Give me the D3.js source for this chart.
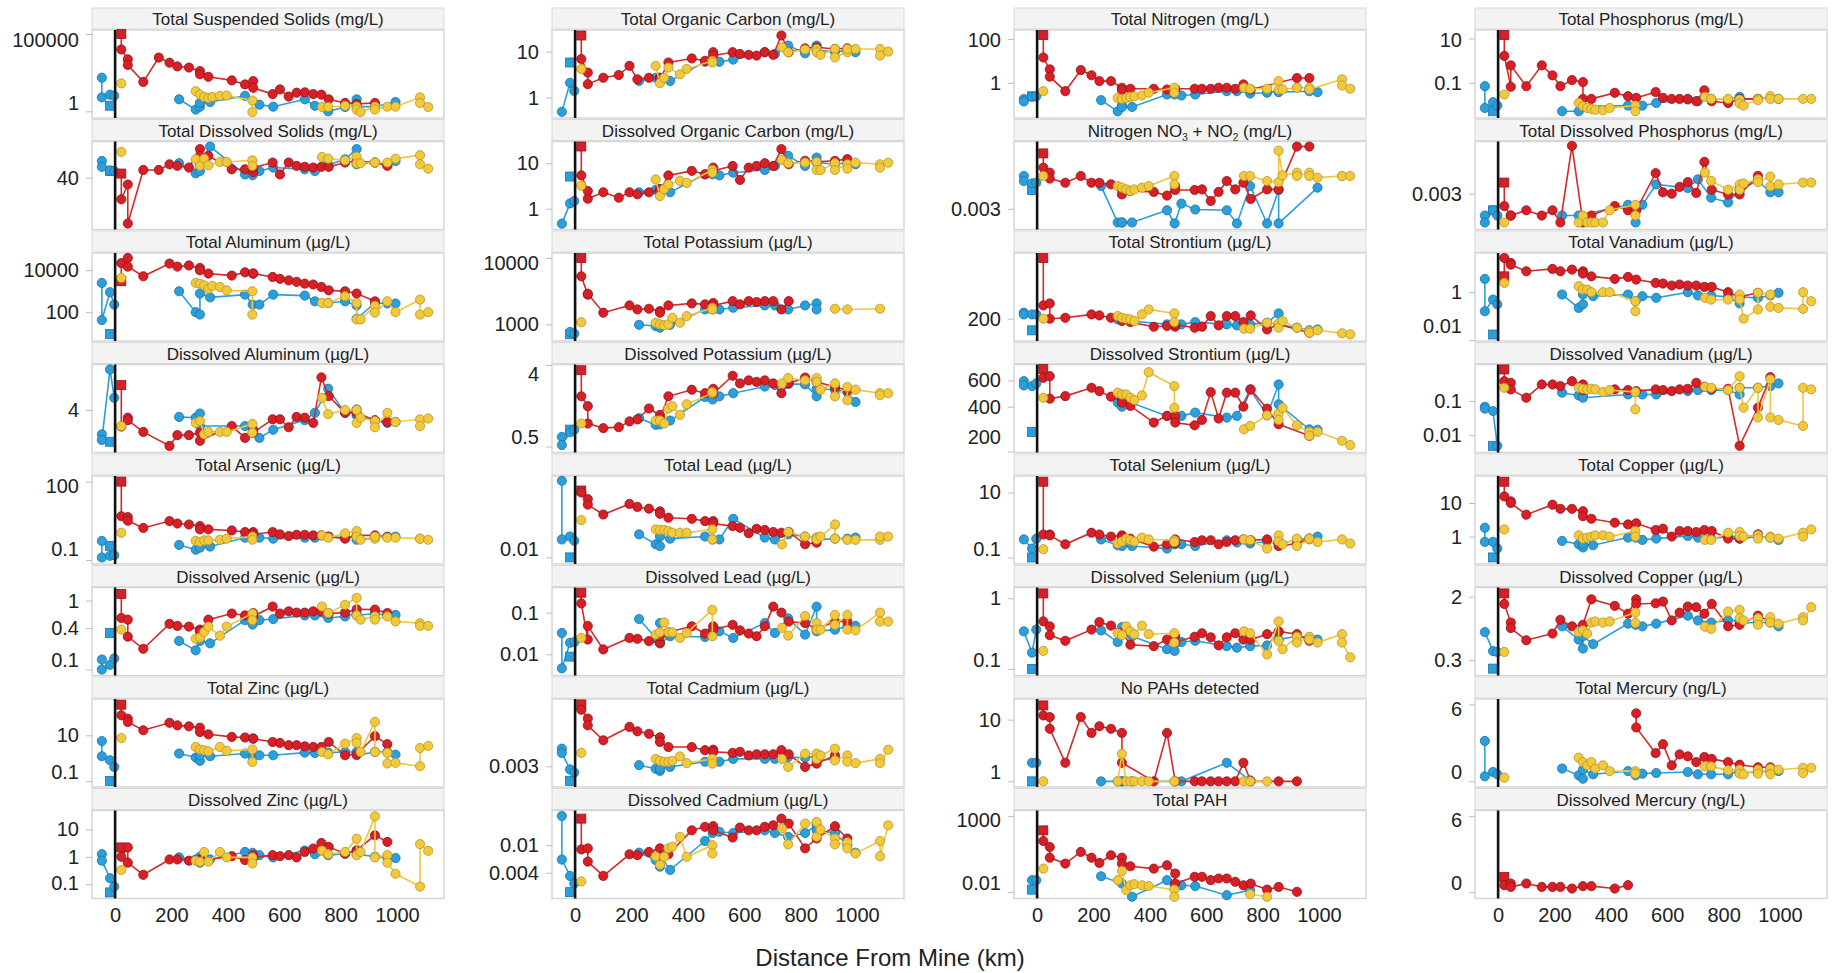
<!DOCTYPE html>
<html>
<head>
<meta charset="utf-8">
<style>
  body { margin: 0; background: #ffffff; }
  svg { font-family: "Liberation Sans", Arial, sans-serif; }
  .strip { fill: #f3f3f3; stroke: #dadada; stroke-width: 1px; }
  .frame { fill: #ffffff; stroke: #d6d6d6; stroke-width: 1.5px; }
  .panel-title { font-size: 17px; fill: #222; }
  .axis-title { font-size: 24px; fill: #222; }
</style>
</head>
<body>
<div id="chart"></div>
<script src="https://d3js.org/d3.v7.min.js"></script>
<script>
const N = null;

// sampling sites (km from mine) shared by every panel
const blueKm = [-47, -47, -18, -3, 227, 286, 301, 301, 337, 461, 488, 512, 561, 673, 709, 756, 816, 857, 857, 922, 966, 995];
const blueSquareKm = -18;
// first red site is drawn as a square
const redKm = [22, 22, 45, 45, 100, 155, 193, 221, 262, 301, 301, 331, 414, 461, 490, 490, 559, 585, 616, 644, 673, 703, 732, 758, 816, 857, 922, 966];
const yellowKm = [22, 286, 301, 316, 331, 345, 372, 396, 487, 487, 734, 756, 816, 857, 857, 871, 922, 922, 966, 966, 995, 1082, 1082, 1111];

// panels listed column by column (8 rows x 4 columns)
const panelTitles = [
  'Total Suspended Solids (mg/L)', 'Total Dissolved Solids (mg/L)', 'Total Aluminum (µg/L)', 'Dissolved Aluminum (µg/L)',
  'Total Arsenic (µg/L)', 'Dissolved Arsenic (µg/L)', 'Total Zinc (µg/L)', 'Dissolved Zinc (µg/L)',
  'Total Organic Carbon (mg/L)', 'Dissolved Organic Carbon (mg/L)', 'Total Potassium (µg/L)', 'Dissolved Potassium (µg/L)',
  'Total Lead (µg/L)', 'Dissolved Lead (µg/L)', 'Total Cadmium (µg/L)', 'Dissolved Cadmium (µg/L)',
  'Total Nitrogen (mg/L)', 'Nitrogen NO_3 + NO_2 (mg/L)', 'Total Strontium (µg/L)', 'Dissolved Strontium (µg/L)',
  'Total Selenium (µg/L)', 'Dissolved Selenium (µg/L)', 'No PAHs detected', 'Total PAH',
  'Total Phosphorus (mg/L)', 'Total Dissolved Phosphorus (mg/L)', 'Total Vanadium (µg/L)', 'Dissolved Vanadium (µg/L)',
  'Total Copper (µg/L)', 'Dissolved Copper (µg/L)', 'Total Mercury (ng/L)', 'Dissolved Mercury (ng/L)'
];

const panelScale = ['log', 'log', 'log', 'log', 'log', 'log', 'log', 'log',
  'log', 'log', 'log', 'log', 'log', 'log', 'log', 'log',
  'log', 'log', 'log', 'log', 'log', 'log', 'log', 'log',
  'log', 'log', 'log', 'log', 'log', 'log', 'linear', 'linear'];

const panelDomain = [
  [0.37, 182000], [1.13, 481], [4.2, 67000], [0.56, 32.7], [0.071, 164], [0.082, 1.55], [0.056, 380], [0.030, 49],
  [0.36, 29.5], [0.35, 30], [562, 11900], [0.43, 4.05], [0.0063, 2.95], [0.0031, 0.4], [0.00091, 0.145], [0.0017, 0.0317],
  [0.0243, 260], [0.00116, 0.0656], [71.4, 4180], [197, 768], [0.063, 32.4], [0.0807, 1.42], [0.81, 21.6], [0.00363, 2340],
  [0.00257, 24], [0.00058, 0.0329], [0.0091, 43.6], [0.00313, 1.17], [0.153, 63.7], [0.187, 2.64], [-0.44, 6.42], [-0.53, 6.45]
];

const panelTicks = [
  [1, 100000], [40], [100, 10000], [4], [0.1, 100], [0.1, 0.4, 1], [0.1, 10], [0.1, 1, 10],
  [1, 10], [1, 10], [1000, 10000], [0.5, 4], [0.01], [0.01, 0.1], [0.003], [0.004, 0.01],
  [1, 100], [0.003], [200], [200, 400, 600], [0.1, 10], [0.1, 1], [1, 10], [0.01, 1000],
  [0.1, 10], [0.003], [0.01, 1], [0.01, 0.1], [1, 10], [0.3, 2], [0, 6], [0, 6]
];

const xTicks = [0, 200, 400, 600, 800, 1000];

const blueSquareValues = [2.3, 63, 9, 0.92, 0.35, 0.34, 0.103, 0.05,
  5.8, 5.1, 710, 0.77, 0.01, 0.0088, 0.0013, 0.0021,
  0.24, 0.0071, 117, 271, 0.1, 0.1, 1, 0.014,
  0.0052, 0.0014, 0.017, 0.0049, 0.24, 0.23, N, N];

const blueValues = [
  [150, 8, 12, 10, 6, 1.3, 2, 3.5, 4, 10, N, 2.7, 2, 6, 2.3, 1, 1.9, 6, 2, 2, N, 4],
  [126, 84, 66, 63, 108, 54, 63, 94, 340, 50, 47, 63, 80, 71, 63, 96, 142, 285, 100, 113, 96, 126],
  [2500, 42, 900, 230, 1000, 100, 77, 780, 510, 690, 230, 230, 690, 620, 330, 275, 330, 210, 48, 275, 260, 260],
  [1.3, 1.0, 26, 7, 2.9, 2.8, 3.4, 1.9, N, 1.9, 1.4, 1.1, 1.6, 2.5, 3.5, 10.7, 3.5, 4.1, 3.1, 2.4, 2.2, 2.3],
  [0.54, 0.126, 0.146, 0.155, 0.38, 0.25, 0.3, N, 0.33, 0.72, 0.72, 0.72, 0.66, 0.72, 0.72, 0.79, 0.72, 0.79, 0.6, 0.72, 0.79, 0.79],
  [0.14, 0.1, 0.117, 0.145, 0.26, 0.19, 0.26, N, 0.24, 0.52, 0.45, 0.52, 0.54, 0.61, 0.61, 0.56, 0.59, 0.66, 0.61, 0.65, 0.61, 0.62],
  [5.6, 1.22, 0.82, 0.42, 1.6, 1.07, 0.77, 1.35, 1.22, 1.6, 1.13, 1.35, 1.35, 1.76, 1.7, 1.76, 1.88, 1.88, 1.35, 1.88, 1.88, 1.44],
  [1.25, 0.72, 0.165, 0.082, 0.95, 0.8, 1.0, 0.61, 0.8, 1.5, 1.4, 1.15, 0.95, 1.7, 1.25, 1.15, 1.3, 1.7, 1.25, 1.0, 0.95, 0.9],
  [0.49, N, 2.1, 1.4, 2.3, 2.7, 2.7, 2.5, 2.3, 6.0, 6.0, 6.0, 6.7, 9.7, 8.9, 13.5, 9.2, 13.5, 10.5, 10, 10.5, 9.7],
  [0.47, N, 1.31, 1.48, 2.3, 2.6, 2.7, 2.3, 2.3, 5.7, 5.7, 5.4, 6.2, 7.1, 8.7, 14.5, 8.7, 13.3, 10.3, 9.5, 10.3, 9.5],
  [N, N, 770, 725, 985, 945, 890, 985, 985, 1680, 1680, 1680, 1780, 1930, 1930, 1680, 1930, 2070, 1680, N, N, N],
  [0.64, 0.52, 0.72, 0.77, 1.03, 0.87, 0.88, N, 0.97, 1.77, 1.66, 1.8, 1.95, 2.31, 2.4, 2.47, 2.44, 1.8, 2.18, 2.13, 2.0, 1.56],
  [2.1, 0.035, 0.043, 0.032, 0.05, 0.025, 0.022, 0.043, 0.037, 0.043, 0.035, 0.035, 0.148, 0.04, 0.035, 0.05, 0.043, 0.04, 0.034, 0.037, 0.037, 0.04],
  [0.0325, 0.0046, 0.0189, 0.0196, 0.07, 0.0247, 0.056, 0.0182, 0.0271, 0.0261, 0.0356, 0.0356, 0.0247, 0.056, 0.0325, 0.073, 0.0297, 0.139, 0.0356, 0.039, 0.047, 0.048],
  [0.0083, 0.0065, 0.0025, 0.0021, 0.0032, 0.0026, 0.0023, 0.0026, 0.0029, 0.0039, 0.0041, 0.0039, 0.0046, 0.0046, 0.0046, 0.0051, 0.0049, 0.0053, 0.0042, 0.0046, N, N],
  [0.0264, 0.0062, 0.0036, 0.0028, 0.0078, 0.0061, 0.0049, 0.0072, 0.0044, 0.0115, 0.015, 0.0156, 0.015, 0.0164, 0.015, 0.0132, 0.015, 0.0194, 0.0164, 0.015, 0.01, 0.0078],
  [0.18, 0.14, 0.226, 0.24, 0.16, 0.049, 0.09, 0.078, 0.078, 0.29, 0.29, 0.26, 0.29, 0.41, 0.41, 0.32, 0.35, 0.41, 0.37, N, 0.41, 0.37],
  [0.0135, 0.0107, 0.0096, 0.0099, 0.0085, 0.0016, 0.0016, 0.0016, 0.0016, 0.0028, 0.00153, 0.0038, 0.0029, 0.0028, 0.00153, 0.0085, 0.00153, 0.0071, 0.00153, N, N, 0.0079],
  [264, 244, 244, 244, N, 194, 194, N, 180, 154, 147, 154, 171, 154, 147, 154, 166, 256, 154, 132, 117, 122],
  [594, 556, 550, 573, N, 426, 400, 448, N, 347, 338, 347, 365, 338, 347, 522, 350, 564, 415, N, 282, 280],
  [0.36, N, 0.188, 0.38, 0.36, 0.24, 0.31, 0.225, 0.225, 0.188, 0.255, 0.255, 0.225, 0.34, 0.29, 0.27, 0.31, 0.31, 0.255, 0.36, 0.38, 0.44],
  [0.34, N, 0.17, 0.36, 0.35, 0.24, 0.39, 0.31, 0.29, 0.19, 0.18, 0.24, 0.25, 0.21, 0.2, 0.21, 0.215, 0.33, 0.26, 0.29, 0.28, 0.26],
  [N, N, 2.0, 2.0, 1, 1, 1, 1, 1, N, N, 1, N, 2.0, N, 1.04],
  [N, N, 0.059, 0.059, 0.107, N, 0.035, N, 0.0047, 0.059, 0.024, 0.027, 0.024, 0.006, N, 0.013],
  [0.07, 0.0073, 0.0133, 0.0093, 0.0052, 0.0052, 0.0087, N, N, 0.0093, 0.0087, 0.0093, 0.0123, 0.0175, 0.0147, 0.0187, 0.0175, 0.0231, 0.0175, 0.0187, 0.0208, 0.0187],
  [0.0011, 0.0008, 0.0014, 0.0011, 0.0011, 0.0011, N, N, N, 0.0018, 0.0008, 0.0018, 0.0046, 0.0039, 0.0058, 0.0025, 0.002, 0.0036, 0.0036, 0.0054, 0.0032, 0.0032],
  [3.6, 0.16, 0.49, 0.31, 0.8, 0.22, 0.31, 0.8, 0.68, 0.8, 0.42, 0.68, 0.58, 1, 0.73, 0.73, 0.64, 0.34, 0.64, 0.58, 0.73, 0.94],
  [0.068, 0.06, 0.051, 0.0049, 0.175, 0.146, 0.146, 0.125, N, 0.156, 0.183, 0.156, 0.156, 0.195, 0.209, 0.209, 0.209, 0.156, 0.244, 0.244, 0.273, 0.327],
  [1.84, 0.697, 0.697, 0.444, 0.746, 0.595, 0.475, 0.595, 0.556, 0.935, 0.935, 0.798, 0.873, 1.05, 0.935, 0.873, 1.0, 1.0, 0.873, 1.0, 0.935, 0.798],
  [0.69, N, 0.39, 0.38, 0.82, 0.55, 0.42, 0.61, 0.48, 0.89, 0.86, 0.82, 0.89, 1.13, 0.98, 0.92, 0.98, 0.98, 0.91, 0.92, 0.92, 0.82],
  [3.15, 0.39, 0.73, 0.55, 1.0, 0.47, 0.21, 0.91, 0.55, 0.8, 0.47, 0.6, 0.65, 0.73, 0.55, 0.55, 0.55, 0.8, 0.65, 0.73, 0.8, 0.8],
  []
];

const redValues = [
  [1e5, 1e4, 2300, 1000, 80, 3000, 1400, 800, 680, 400, 250, 170, 100, 55, 90, 33, 13, 26, 9, 16, 17, 13, 12, 6, 3.5, 3, 3.5, N],
  [53, 9, 25, 1.7, 68, 68, 100, 90, 80, 285, 180, 180, 71, 71, 59, 80, 113, 50, 113, 90, 84, 80, 84, 84, 113, 126, 113, 90],
  [3000, 22000, 39000, 15000, 5200, N, 21000, 15000, 17000, 13000, 10000, 7000, 5600, 8000, 7000, 7000, 4800, 3900, 3300, 2800, 2300, 2100, 1600, 1100, 1000, 780, 330, N],
  [12.6, 1.86, 2.8, 2.5, 1.45, N, 0.76, 1.25, 1.25, 1.4, 0.96, N, 1.9, 1.1, 1.6, 1.4, 2.6, 2.6, 1.8, 2.9, 2.8, 2.2, 18, 7.6, 3.5, 3.5, 2.5, 2.3],
  [100, 4.75, 4.4, 3.2, 1.7, N, 3.1, 2.5, 2.3, 2.0, 1.5, 1.5, 1.36, 1.18, 1.18, 0.96, 1.18, 0.96, 0.83, 0.93, 0.93, 0.88, 0.88, 0.79, 0.66, 0.88, 0.88, 0.76],
  [1.25, 0.56, 0.53, 0.3, 0.2, N, 0.46, 0.43, 0.42, 0.38, 0.36, 0.53, 0.65, 0.61, 0.66, 0.59, 0.82, 0.65, 0.7, 0.67, 0.67, 0.7, 0.7, 0.65, 0.67, 0.75, 0.74, 0.66],
  [215, 74, 53, 38, 16.6, N, 35, 27, 24.5, 21.5, 13.8, 11, 8.5, 8, 7.2, 7.2, 5.1, 4.65, 3.7, 3.7, 3.3, 3.1, 3.1, 5.1, 1.35, 1.48, 9.1, 4.1],
  [2.2, 1.0, 2.2, 0.61, 0.22, N, 0.8, 0.8, 0.72, 0.8, 0.72, N, 1.05, 0.76, 1.15, 0.95, 1.15, 1.05, 1.15, 0.95, 1.5, 2.0, 3.2, 2.3, 1.3, 1.7, 6.1, 3.5],
  [22.4, 6.9, 3.5, 1.96, 2.7, 3.1, 4.9, 2.5, 2.7, 2.7, 2.5, 5.8, 7.1, 6.3, 9.7, 8.2, 9.7, 8.9, 8.5, 8.2, 9.7, 8.5, 22.4, 9.7, 11.8, 12.4, 11.4, 11.8],
  [23.3, 5.4, 2.45, 1.66, 2.3, 1.75, 2.3, 2.07, 2.3, 2.7, 2.45, 5.4, 6.8, 5.7, 8.0, 6.8, 8.7, 4.3, 8.0, 8.7, 10, 8.7, 20.4, 9.5, 11.3, 10.7, 11.3, 12.3],
  [10000, 5300, 2800, 2900, 1500, N, 1930, 1680, 1720, 1590, 1500, 1930, 2070, 2000, 2100, 1930, 2240, 2000, 2240, 2170, 2240, 2240, 1680, 2240],
  [3.5, 1.8, 1.4, 0.9, 0.8, 0.82, 0.95, 1.0, 1.32, 1.12, 1.03, 1.8, 2.13, 1.95, 2.18, 1.93, 3.04, 2.5, 2.7, 2.6, 2.7, 2.5, 1.95, 2.5, 2.9, 2.6, 2.28, 2.1],
  [1.07, 0.93, 0.59, 0.4, 0.2, N, 0.42, 0.34, 0.3, 0.25, 0.21, 0.16, 0.148, 0.126, 0.126, 0.107, 0.089, 0.079, 0.054, 0.074, 0.068, 0.059, 0.056, 0.059, 0.025, 0.028, N, N],
  [0.3, 0.166, 0.0226, 0.048, 0.0131, N, 0.0247, 0.0235, 0.0207, 0.0189, 0.0271, 0.0337, 0.047, 0.0314, 0.047, 0.039, 0.051, 0.0375, 0.0314, 0.0271, 0.047, 0.139, 0.1, 0.061, 0.056, 0.04, 0.061, 0.061],
  [0.106, 0.078, 0.047, 0.0318, 0.0134, N, 0.029, 0.0225, 0.0195, 0.016, 0.0122, 0.0091, 0.0091, 0.0076, 0.0078, 0.0069, 0.0065, 0.0069, 0.0056, 0.006, 0.006, 0.006, 0.0076, 0.006, 0.0029, 0.0035, 0.0056, N],
  [0.0242, 0.0087, 0.009, 0.0058, 0.0036, N, 0.0074, 0.0072, 0.008, 0.009, 0.0069, 0.0074, 0.0164, 0.0184, 0.0188, 0.0164, 0.0129, 0.018, 0.0164, 0.0164, 0.0184, 0.0194, 0.0242, 0.0205, 0.009, 0.0125, 0.0188, 0.0125],
  [153, 14.3, 4.1, 1.9, 0.41, 3.8, 2.2, 1.19, 1.19, 0.59, 0.46, 0.53, 0.53, 0.49, 0.49, 0.53, 0.53, 0.53, 0.53, 0.59, 0.59, 0.53, 0.84, 0.49, N, N, 1.64, 1.64],
  [0.038, 0.0198, 0.0157, 0.012, 0.0099, 0.0135, 0.0099, 0.0099, 0.0092, 0.0073, 0.0058, 0.0068, 0.0065, 0.0055, 0.0085, 0.0071, 0.0071, 0.0073, 0.0043, 0.0065, 0.0107, 0.0073, 0.0099, 0.0047, 0.0073, 0.0073, 0.052, 0.052],
  [3320, 370, 405, 200, 209, N, 244, 233, 209, 188, 180, 171, 138, 143, 138, 154, 132, 138, 226, 147, 226, 226, 171, 233, 122, 154, N, 105],
  [718, 625, 641, 453, 471, N, 536, 509, 467, 437, 426, 405, 313, 347, 347, 313, 300, 326, 501, 333, 497, 497, 400, 522, 388, 305, N, 255],
  [21.6, 0.51, 0.51, 0.48, 0.255, N, 0.58, 0.51, 0.44, 0.48, 0.41, 0.38, 0.216, 0.255, 0.27, 0.36, 0.3, 0.34, 0.34, 0.255, 0.3, 0.34, 0.36, 0.34, 0.36, 0.225, 0.27, 0.38],
  [1.17, 0.47, 0.4, 0.3, 0.25, N, 0.36, 0.46, 0.41, 0.33, N, 0.22, 0.21, 0.26, 0.29, 0.24, 0.285, 0.32, 0.28, 0.215, 0.28, 0.32, 0.26, 0.26, 0.31, 0.34, 0.31, 0.25],
  [17, 11.7, 11, 7.1, 2.0, 11, 6.1, 7.8, 7.1, 6.1, 2.0, N, 1, 6.1, 1, N, 1, 1, 1, 1, 1, 1, 2.0, 1, N, 1, 1, N],
  [114, 22.6, 9.1, 1.8, 0.73, 4.3, 1.8, 0.81, 2.6, 1.8, 0.73, 0.49, 0.34, 0.57, 0.16, 0.035, 0.098, 0.098, 0.059, 0.076, 0.076, 0.046, 0.027, 0.035, 0.014, 0.021, 0.01, N],
  [14.2, 1.63, 0.066, 0.61, 0.07, 0.61, 0.215, 0.07, 0.132, 0.107, 0.0187, 0.0187, 0.035, 0.0248, 0.0208, N, 0.038, 0.0208, 0.0187, 0.0187, 0.0187, 0.0147, 0.046, 0.0147, 0.0123, 0.0187, 0.0187, N],
  [0.005, 0.0017, 0.0011, 0.0011, 0.0014, 0.0011, 0.0014, 0.0008, 0.027, 0.0008, N, 0.0011, 0.0017, 0.0014, 0.0014, N, 0.0077, 0.0032, 0.003, 0.0041, 0.0051, 0.0031, 0.0129, 0.0036, 0.0029, 0.0029, 0.0068, N],
  [4.6, 27, 16.7, 14.2, 7.5, N, 9.4, 7.5, 8.8, 7.5, 6.0, 4.6, 3.6, 4.35, 3.37, N, 2.45, 2.3, 1.9, 2.1, 1.9, 1.9, 1.67, 1.67, 1, 0.64, 0.94, N],
  [0.84, 0.38, 0.34, 0.219, 0.125, 0.305, 0.305, 0.273, 0.38, 0.305, 0.209, N, 0.219, 0.209, 0.195, N, 0.219, 0.209, 0.195, 0.219, 0.228, 0.34, 0.261, 0.228, 0.228, 0.0049, 0.064, 0.5],
  [43, 15.7, 11.2, 10, 4.5, N, 8.9, 6.7, 6.7, 5.7, 4.05, 3.4, 2.6, 2.3, 2.5, N, 1.57, 1.72, 1.0, 1.47, 1.47, 1.37, 1.57, 1.47, 0.873, 0.873, 1.17, N],
  [2.21, 1.61, 0.92, 0.78, 0.54, N, 0.66, 1.0, 0.82, 0.86, N, 1.85, 1.52, 1.2, 1.85, 1.61, 1.64, 1.73, 0.98, 1.24, 1.49, 1.46, 1.2, 1.61, 0.82, 0.86, 1.13, 0.95],
  [N, N, N, N, N, N, N, N, N, N, N, N, N, N, 5.3, 4.2, 2.2, 2.9, 1.25, 2.1, 1.95, 1.5, 1.9, 1.75, 1.5, 1.3, 1.1, 1.1],
  [1.18, 0.53, 0.66, 0.39, 0.66, 0.39, 0.39, 0.39, 0.26, 0.45, N, 0.45, 0.26, 0.53]
];

const yellowValues = [
  [64, 20, 12, 8.5, 7.4, 8.5, 10, 10.5, 5, 0.9, 1.9, 1.9, 2.3, 2, 1.3, 0.9, 2, 1.3, 2, N, 2, 8, 3.5, 1.9],
  [235, 142, 90, 148, 94, N, 118, 118, 132, 90, 166, 148, 132, 170, 105, 108, 113, 113, 113, N, 148, 187, 100, 74],
  [4300, 2500, 2300, 1900, 1300, 1800, 1600, 1100, 1000, 77, 275, 275, 580, 275, 45, 45, 200, 96, 330, N, 100, 400, 77, 100],
  [1.9, 2.2, 2.4, 1.3, 1.45, N, 1.45, 1.45, 2.1, 1.4, 7, 3.3, 4, 4, 2.2, 2.8, 2.4, 1.8, 3.5, N, 2.3, 2.6, 1.9, 2.7],
  [1.11, 0.54, 0.5, 0.57, 0.57, N, 0.6, 0.66, 0.79, 0.6, 0.88, 0.72, 1.05, 1.29, 0.79, 0.6, 0.66, 0.79, 0.72, N, 0.72, 0.66, 0.66, 0.6],
  [0.38, 0.28, 0.29, 0.35, 0.42, N, 0.31, 0.42, 0.65, 0.52, 0.82, 0.66, 0.87, 1.1, 0.61, 0.53, 0.59, 0.53, 0.59, N, 0.5, 0.47, 0.43, 0.43],
  [7.6, 3.1, 2.4, 2.2, 2.0, N, 3.1, 2.1, 2.4, 0.69, 1.88, 1.48, 4.35, 7.6, 4.65, 1.88, 38, 1.88, 1.7, 0.59, 0.63, 0.45, 2.8, 3.45],
  [0.33, 0.72, 0.66, 1.5, 0.66, N, 1.5, 0.95, 0.95, 0.57, 1.7, 1.25, 1.5, 4.6, 1.15, 1.5, 30, 0.95, 1.15, 0.61, 0.24, 0.082, 2.9, 1.65],
  [4.2, 4.9, 2.06, 2.7, 4.5, N, 3.2, 4.2, 6.3, 5.8, 12.4, 9.7, 11.1, 11.4, 9.7, 8.5, 11.4, 7.5, 9.7, 11.4, 11.4, 11.4, 8.2, 10],
  [3.2, 4.4, 1.9, 2.7, 3.4, N, 4.1, 3.7, 7.1, 6.2, 11.8, 10, 10.3, 10.7, 7.1, 7.1, 10, 7.1, 9.5, 7.6, 10.3, 9.5, 8.0, 10.3],
  [1080, 1060, 1000, 970, 1000, 1260, 1060, 1330, 1780, 1680, N, N, N, N, N, N, 1720, N, 1680, N, N, 1720, N, N],
  [0.9, 0.97, 0.97, 0.9, 1.32, 1.4, 1.12, 1.47, 1.95, 2.0, 2.5, 2.87, 2.7, 2.87, 2.6, 2.13, 2.5, 1.8, 2.28, 1.63, 2.13, 1.95, 1.85, 1.95],
  [0.135, 0.071, 0.068, 0.068, 0.063, 0.056, 0.056, 0.056, 0.071, 0.035, 0.025, 0.059, 0.043, 0.04, 0.035, 0.043, 0.1, 0.037, 0.034, N, 0.034, 0.034, 0.043, 0.043],
  [0.0247, 0.0297, 0.0337, 0.058, 0.0337, 0.0337, 0.0247, 0.0325, 0.116, 0.0271, 0.043, 0.0281, 0.083, 0.056, 0.039, 0.039, 0.088, 0.051, 0.088, 0.039, 0.0375, 0.1, 0.061, 0.061],
  [0.0065, 0.0046, 0.0041, 0.0039, 0.0039, 0.0041, 0.0053, 0.0036, 0.0046, 0.0035, 0.0046, 0.0029, 0.0062, 0.0062, 0.0046, 0.0056, 0.0083, 0.0042, 0.0056, 0.0039, 0.0036, 0.0046, 0.0036, 0.0078],
  [0.003, 0.0069, 0.0052, 0.0068, 0.009, 0.0095, 0.0132, 0.0068, 0.01, 0.0076, 0.0174, 0.0103, 0.0205, 0.0217, 0.0132, 0.0168, 0.0125, 0.0103, 0.011, 0.009, 0.0076, 0.0115, 0.0069, 0.0194],
  [0.41, 0.2, 0.18, 0.2, 0.226, 0.24, 0.26, 0.35, 0.59, 0.35, 0.59, 0.53, 0.53, 1.19, 0.49, 0.49, 0.59, 0.59, 0.59, 0.49, N, 1.43, 0.75, 0.53],
  [0.0135, 0.0085, 0.0079, 0.0073, 0.0068, 0.0073, 0.0079, 0.0085, 0.0135, 0.0092, 0.0135, 0.0135, 0.0107, 0.0102, 0.043, 0.0139, 0.0157, 0.0135, 0.0157, 0.0135, 0.0125, 0.0135, 0.0135, 0.0135],
  [200, 226, 209, 200, 194, 180, 244, 307, 256, 171, 126, 126, 166, 161, 132, 180, 132, N, 113, 105, 117, 102, N, 97],
  [459, 497, 483, 483, 459, 443, 476, 682, 550, 393, 282, 297, 350, 361, 326, 393, 300, N, 271, 255, 271, 236, N, 221],
  [0.18, 0.27, 0.31, 0.38, 0.34, 0.31, 0.41, 0.36, 0.34, 0.3, 0.36, 0.34, 0.188, 0.48, 0.31, 0.255, 0.38, 0.225, 0.36, 0.38, 0.3, 0.36, N, 0.27],
  [0.18, 0.32, 0.3, 0.4, 0.34, 0.31, 0.41, 0.31, 0.32, 0.236, 0.34, 0.32, 0.16, 0.47, 0.25, 0.19, 0.285, 0.236, 0.285, 0.26, 0.236, 0.31, 0.236, 0.146],
  [1, 1, 2.8, 1, 1, 1, 1, 1, 1, 1, 1, 1, 1],
  [0.34, 0.059, 0.24, 0.013, 0.027, 0.032, 0.027, 0.024, 0.014, 0.0047, N, 0.007, 0.0047],
  [0.0295, 0.0123, 0.0087, 0.0073, 0.0066, 0.0061, 0.0057, 0.0073, 0.0093, 0.0052, 0.0231, 0.0187, 0.0187, 0.0175, 0.0115, 0.0093, 0.0187, 0.0163, 0.0248, 0.0187, 0.0187, 0.0187, N, 0.0187],
  [0.0008, 0.0008, 0.0011, 0.0008, 0.0008, 0.0008, 0.0008, 0.0014, 0.0018, 0.0011, 0.0079, 0.0054, 0.0036, 0.0046, 0.0036, 0.0048, 0.0058, 0.0051, 0.0066, 0.0042, 0.0046, 0.005, N, 0.005],
  [2.45, 1.78, 1.29, 1.29, 1, N, 1, 1, 0.42, 0.16, 0.58, 0.49, 0.49, 0.8, 0.49, 0.078, 0.19, 0.94, 0.8, 0.245, 0.22, 0.2, 1, 0.42],
  [0.244, 0.244, 0.228, 0.219, 0.228, 0.219, 0.183, 0.209, 0.183, 0.057, 0.261, 0.244, 0.209, 0.53, 0.244, 0.064, 0.244, 0.033, 0.43, 0.033, 0.028, 0.0187, 0.244, 0.219],
  [1.64, 1.09, 0.873, 0.935, 1.0, 1.09, 1.09, 1.0, 1.47, 1.0, 0.798, 0.798, 1.31, 1.37, 1.05, 1.0, 1.09, 0.873, 1.0, 0.935, 0.873, 1.31, 1.0, 1.64],
  [0.38, 0.69, 0.73, 0.66, 0.92, 0.95, 0.92, 0.95, 1.24, 0.91, 0.81, 0.76, 1.28, 1.35, 1.05, 0.98, 1.05, 0.86, 1.08, 0.92, 0.89, 1.08, 0.98, 1.46],
  [0.29, 1.85, 1.5, 1.25, 1.5, 1.0, 1.25, 0.8, 0.8, 0.6, 1.17, 1.17, 0.86, 0.91, 0.6, 0.55, 0.91, 0.6, 1.0, 0.55, 0.91, 1.06, 0.65, 1.06],
  []
];

const series = [
  { km: blueKm, values: blueValues, fill: '#2b9fdb', stroke: '#1b74a8', line: '#2b9fdb', firstSquare: false },
  { km: redKm, values: redValues, fill: '#d81f26', stroke: '#96121a', line: '#d42a2a', firstSquare: true },
  { km: yellowKm, values: yellowValues, fill: '#f1c93b', stroke: '#b8952a', line: '#f1c63a', firstSquare: false }
];

const width = 1834, height = 973;
const colLeft = [92, 552, 1014, 1475];
const panelW = 352;
const xDomain = [-82, 1167];
const gapBreak = 200; // km: longer gaps are not joined

const svg = d3.select('#chart').append('svg')
  .attr('width', width)
  .attr('height', height);

function segments(points) {
  const out = [];
  let cur = [];
  points.forEach((p, i) => {
    if (i > 0 && p.km - points[i - 1].km > gapBreak) {
      out.push(cur);
      cur = [];
    }
    cur.push(p);
  });
  if (cur.length) out.push(cur);
  return out;
}

panelTitles.forEach((title, i) => {
  const col = Math.floor(i / 8), row = i % 8;
  const left = colLeft[col];
  const top = 8 + row * 111.5;
  const plotTop = top + 22, plotBottom = top + 110;
  const g = svg.append('g');

  // strip with the panel title
  g.append('rect').attr('class', 'strip')
    .attr('x', left).attr('y', top).attr('width', panelW).attr('height', 21);
  const t = g.append('text').attr('class', 'panel-title')
    .attr('x', left + panelW / 2).attr('y', top + 17)
    .attr('text-anchor', 'middle');
  let shift = 0;
  title.split(/(_\d)/).forEach(part => {
    if (!part) return;
    if (part.startsWith('_')) {
      t.append('tspan').attr('font-size', 10).attr('dy', 4).text(part.slice(1));
      shift = -4;
    } else {
      const ts = t.append('tspan').text(part);
      if (shift) ts.attr('dy', shift);
      shift = 0;
    }
  });

  g.append('rect').attr('class', 'frame')
    .attr('x', left).attr('y', plotTop).attr('width', panelW).attr('height', plotBottom - plotTop);

  const x = d3.scaleLinear().domain(xDomain).range([left, left + panelW]);
  const y = (panelScale[i] === 'log' ? d3.scaleLog() : d3.scaleLinear())
    .domain(panelDomain[i]).range([plotBottom, plotTop]);

  // y axis; labels near the frame edges are pushed inside
  const yAxis = g.append('g')
    .attr('transform', `translate(${left},0)`)
    .call(d3.axisLeft(y).tickValues(panelTicks[i]).tickFormat(d => String(d)).tickSize(6).tickPadding(7));
  yAxis.select('.domain').remove();
  yAxis.selectAll('.tick line').attr('stroke', '#bdbdbd');
  yAxis.selectAll('.tick text')
    .attr('font-size', 20)
    .attr('font-family', '"Liberation Sans", Arial, sans-serif')
    .attr('fill', '#222')
    .attr('y', d => {
      const ty = y(d);
      const ly = Math.max(plotTop + 10, Math.min(plotBottom - 15, ty));
      return ly - ty;
    });

  if (row === 7) {
    const xAxis = g.append('g')
      .attr('transform', `translate(0,${plotBottom})`)
      .call(d3.axisBottom(x).tickValues(xTicks).tickFormat(d => String(d)).tickSize(0).tickPadding(9));
    xAxis.select('.domain').remove();
    xAxis.selectAll('.tick text')
      .attr('font-size', 20)
      .attr('font-family', '"Liberation Sans", Arial, sans-serif')
      .attr('fill', '#222');
  }

  const line = d3.line().x(d => x(d.km)).y(d => y(d.v));

  series.forEach((s, si) => {
    const vals = s.values[i];
    const pts = s.km.map((km, k) => ({ km, v: vals[k], k }))
      .filter(p => p.v != null);
    segments(pts).forEach(seg => {
      if (seg.length > 1) {
        g.append('path').datum(seg)
          .attr('d', line)
          .attr('fill', 'none')
          .attr('stroke', s.line)
          .attr('stroke-width', 1.6);
      }
    });
    if (si === 0 && blueSquareValues[i] != null) {
      g.append('rect')
        .attr('x', x(blueSquareKm) - 4.5).attr('y', y(blueSquareValues[i]) - 4.5)
        .attr('width', 9).attr('height', 9)
        .attr('fill', s.fill).attr('stroke', s.stroke).attr('stroke-width', 0.8);
    }
    pts.forEach(p => {
      if (s.firstSquare && p.k === 0) {
        g.append('rect')
          .attr('x', x(p.km) - 4.5).attr('y', y(p.v) - 4.5)
          .attr('width', 9).attr('height', 9)
          .attr('fill', s.fill).attr('stroke', s.stroke).attr('stroke-width', 0.8);
      } else {
        g.append('circle')
          .attr('cx', x(p.km)).attr('cy', y(p.v)).attr('r', 4.6)
          .attr('fill', s.fill).attr('stroke', s.stroke).attr('stroke-width', 0.8);
      }
    });
  });

  // mine location
  g.append('line')
    .attr('x1', x(0)).attr('x2', x(0))
    .attr('y1', plotTop).attr('y2', plotBottom)
    .attr('stroke', '#111').attr('stroke-width', 2.6);
});

svg.append('text').attr('class', 'axis-title')
  .attr('x', 890).attr('y', 958).attr('dy', '0.35em')
  .attr('text-anchor', 'middle')
  .text('Distance From Mine (km)');
</script>
</body>
</html>
